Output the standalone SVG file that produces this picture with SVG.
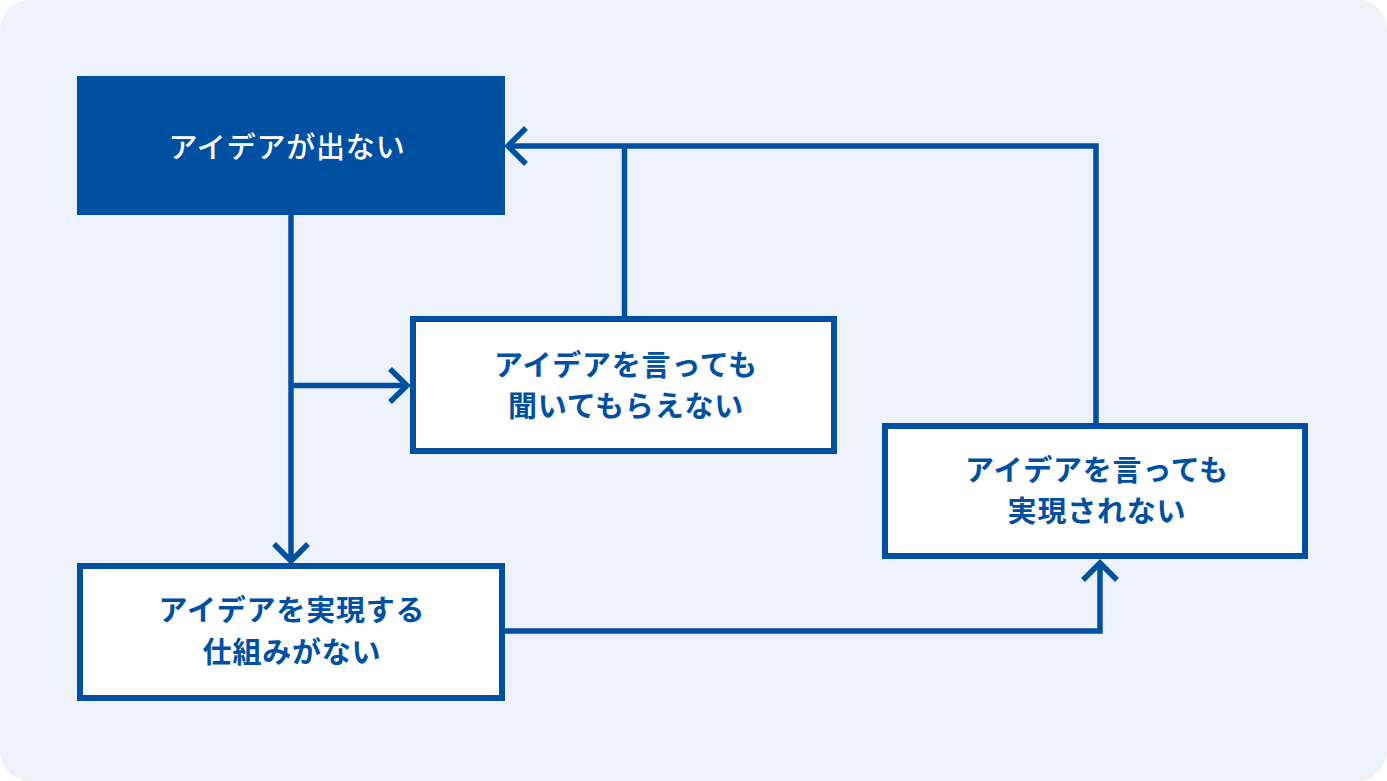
<svg xmlns="http://www.w3.org/2000/svg" width="1387" height="781" viewBox="0 0 1387 781">
<style>
.bx{fill:#ffffff;stroke:#0050A2;stroke-width:6}
.ln{fill:none;stroke:#0050A2;stroke-width:5.5;stroke-linejoin:miter}
.ah{fill:none;stroke:#0050A2;stroke-width:5.5;stroke-linecap:butt;stroke-linejoin:miter}
.t{font-family:"Noto Sans CJK JP","Noto Sans",sans-serif;font-size:29px;font-weight:700;text-anchor:middle;fill:#0050A2;letter-spacing:0.8px}
.tw{fill:#ffffff;font-weight:500}
</style>
<rect x="0" y="0" width="1387" height="781" fill="#ffffff"/>
<rect x="0" y="0" width="1387" height="781" rx="30" ry="30" fill="#EDF2FA"/>
<g id="connectors">
<path class="ln" d="M291,214 V560"/>
<path class="ah" d="M274,544 L291,561 L308,544"/>
<path class="ln" d="M291,385.5 H407"/>
<path class="ah" d="M390,369 L407,385.5 L390,402"/>
<path class="ln" d="M624.5,317 V146 M1096,423 V146 H510"/>
<path class="ah" d="M526,128 L508,146 L526,164"/>
<path class="ln" d="M505,631 H1100 V562"/>
<path class="ah" d="M1083,580 L1100,563 L1117,580"/>
</g>
<g id="node1">
<rect x="77" y="76" width="428" height="139" fill="#0050A2"/>
<text class="t tw" x="287" y="158">アイデアが出ない</text>
</g>
<g id="node2">
<rect class="bx" x="413" y="319" width="421" height="132"/>
<text class="t" x="626" y="376">アイデアを言っても</text>
<text class="t" x="626" y="417">聞いてもらえない</text>
</g>
<g id="node3">
<rect class="bx" x="80" y="566" width="422" height="132"/>
<text class="t" x="292" y="621">アイデアを実現する</text>
<text class="t" x="292" y="663">仕組みがない</text>
</g>
<g id="node4">
<rect class="bx" x="885" y="426" width="420" height="130"/>
<text class="t" x="1097" y="481">アイデアを言っても</text>
<text class="t" x="1097" y="522">実現されない</text>
</g>
</svg>
